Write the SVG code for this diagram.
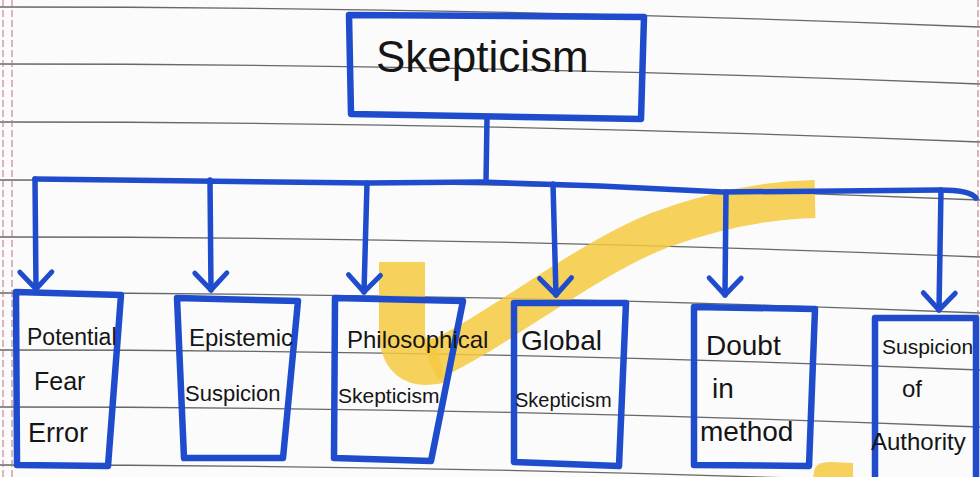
<svg xmlns="http://www.w3.org/2000/svg" width="980" height="477" viewBox="0 0 980 477">
  <style>
    .rule { fill: none; stroke: #4d4d4d; stroke-width: 1.4; opacity: 0.85; }
    .margin { fill: none; stroke: #b8707e; stroke-width: 1; stroke-dasharray: 7 3; }
    .hl { fill: none; stroke: #f5c93f; stroke-linejoin: round; opacity: 0.85; }
    .ink { fill: none; stroke: #1e4ccc; stroke-width: 6.5; stroke-linejoin: round; stroke-linecap: round; }
    .conn { fill: none; stroke: #1e4ccc; stroke-width: 5.5; stroke-linecap: round; }
    .hw { font-family: "Liberation Sans", Arial, sans-serif; fill: #151515; }
  </style>
  <defs>
    <marker id="vhead" markerUnits="userSpaceOnUse" markerWidth="40" markerHeight="40" refX="0" refY="0" orient="auto" overflow="visible">
      <path d="M-17,-16 L0,0 L-17,16" fill="none" stroke="#1e4ccc" stroke-width="5" stroke-linecap="round" stroke-linejoin="round"/>
    </marker>
  </defs>

  <!-- paper -->
  <rect x="0" y="0" width="980" height="477" fill="#fbfbfb"/>
  <g id="paper">
    <path class="rule" d="M0,7 Q490,7 980,27"/>
    <path class="rule" d="M0,64 Q490,64 980,84"/>
    <path class="rule" d="M0,122 Q490,122 980,142"/>
    <path class="rule" d="M0,180 Q490,180 980,200"/>
    <path class="rule" d="M0,237 Q490,237 980,257"/>
    <path class="rule" d="M0,293 Q490,293 980,313"/>
    <path class="rule" d="M0,350 Q490,350 980,370"/>
    <path class="rule" d="M0,407 Q490,407 980,427"/>
    <path class="rule" d="M0,465 Q490,465 980,485"/>
    <line class="margin" x1="3" y1="0" x2="3" y2="477"/>
    <line class="margin" x1="12" y1="0" x2="12" y2="477"/>
    <line class="margin" x1="978" y1="0" x2="978" y2="477"/>
  </g>

  <!-- highlighter -->
  <g id="highlighter">
    <path class="hl" stroke-width="46" d="M402,262 L402,332 Q403,370 440,360"/>
    <path class="hl" stroke-width="38" d="M430,362 C500,330 580,262 660,230 C720,208 770,200 815,199"/>
    <path d="M813,477 L815,468 Q818,462 830,462 L853,463 L853,477 Z" fill="#f5c93f" opacity="0.85"/>
  </g>

  <!-- connectors -->
  <g id="connectors">
    <path class="conn" d="M487,118 L486,182"/>
    <path class="conn" d="M35,179 L367,183 L480,182 L600,186 L723,192 L940,190 Q970,190 976,198"/>
    <path class="conn" marker-end="url(#vhead)" d="M35,179 L36,289"/>
    <path class="conn" marker-end="url(#vhead)" d="M210,180 L211,290"/>
    <path class="conn" marker-end="url(#vhead)" d="M367,183 L364,292"/>
    <path class="conn" marker-end="url(#vhead)" d="M553,184 L556,295"/>
    <path class="conn" marker-end="url(#vhead)" d="M726,192 L725,295"/>
    <path class="conn" marker-end="url(#vhead)" d="M941,190 L939,310"/>
  </g>

  <g id="skepticism">
    <path class="ink" d="M349,15 L644,17 L641,119 L351,114 Z"/>
    <text class="hw" x="376" y="72" font-size="44">Skepticism</text>
  </g>

  <g id="potential-fear-error">
    <path class="ink" d="M16,292 L121,295 L108,466 L17,465 Z"/>
    <text class="hw" x="27" y="345" font-size="23">Potential</text>
    <text class="hw" x="34" y="390" font-size="25">Fear</text>
    <text class="hw" x="28" y="442" font-size="27">Error</text>
  </g>

  <g id="epistemic-suspicion">
    <path class="ink" d="M177,298 L298,301 L283,458 L184,458 Z"/>
    <text class="hw" x="189" y="346" font-size="24">Epistemic</text>
    <text class="hw" x="185" y="401" font-size="22">Suspicion</text>
  </g>

  <g id="philosophical-skepticism">
    <path class="ink" d="M335,298 L463,301 L431,461 L334,458 Z"/>
    <text class="hw" x="347" y="348" font-size="24">Philosophical</text>
    <text class="hw" x="338" y="403" font-size="21">Skepticism</text>
  </g>

  <g id="global-skepticism">
    <path class="ink" d="M514,303 L626,303 L619,466 L514,462 Z"/>
    <text class="hw" x="521" y="350" font-size="28">Global</text>
    <text class="hw" x="515" y="407" font-size="20">Skepticism</text>
  </g>

  <g id="doubt-in-method">
    <path class="ink" d="M694,307 L815,309 L809,466 L694,465 Z"/>
    <text class="hw" x="706" y="355" font-size="28">Doubt</text>
    <text class="hw" x="712" y="398" font-size="28">in</text>
    <text class="hw" x="700" y="441" font-size="28">method</text>
  </g>

  <g id="suspicion-of-authority">
    <path class="ink" d="M875,480 L875,318 L976,318 L976,480"/>
    <text class="hw" x="882" y="354" font-size="21">Suspicion</text>
    <text class="hw" x="902" y="397" font-size="24">of</text>
    <text class="hw" x="871" y="450" font-size="24">Authority</text>
  </g>
</svg>
